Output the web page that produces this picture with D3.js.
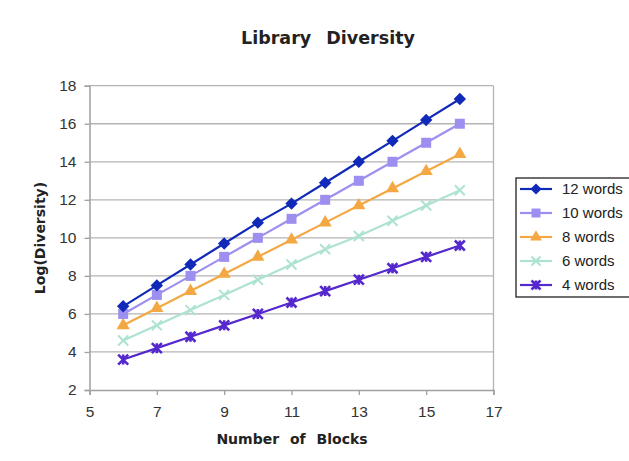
<!DOCTYPE html>
<html><head><meta charset="utf-8">
<script src="https://cdn.jsdelivr.net/npm/d3@7"></script>
<style>body{margin:0;background:#fff}svg{display:block}</style>
</head><body>
<script>
const blocks = [6,7,8,9,10,11,12,13,14,15,16];
const words12 = [6.4,7.5,8.6,9.7,10.8,11.8,12.9,14.0,15.1,16.2,17.3];
const words10 = [6.0,7.0,8.0,9.0,10.0,11.0,12.0,13.0,14.0,15.0,16.0];
const words8  = [5.4,6.3,7.2,8.1,9.0,9.9,10.8,11.7,12.6,13.5,14.4];
const words6  = [4.6,5.4,6.2,7.0,7.8,8.6,9.4,10.1,10.9,11.7,12.5];
const words4  = [3.6,4.2,4.8,5.4,6.0,6.6,7.2,7.8,8.4,9.0,9.6];
const seriesNames = ["12 words","10 words","8 words","6 words","4 words"];
const xTicks = [5,7,9,11,13,15,17];
const yTicks = [2,4,6,8,10,12,14,16,18];

const series = [
  {name:seriesNames[0], values:words12, color:"#1029b8", marker:"diamond"},
  {name:seriesNames[1], values:words10, color:"#9d8ff0", marker:"square"},
  {name:seriesNames[2], values:words8,  color:"#f4a843", marker:"triangle"},
  {name:seriesNames[3], values:words6,  color:"#ade3d0", marker:"x"},
  {name:seriesNames[4], values:words4,  color:"#5428cc", marker:"star"}
];

const W=629,H=461;
const svg=d3.select("body").append("svg").attr("width",W).attr("height",H);
const L=89.5,R=493.5,T=85.7,B=390;
const x=d3.scaleLinear().domain([5,17]).range([L,R]);
const y=d3.scaleLinear().domain([2,18]).range([B,T]);

svg.append("g").selectAll("line").data(yTicks.slice(1)).join("line")
  .attr("x1",L).attr("x2",R).attr("y1",d=>y(d)).attr("y2",d=>y(d))
  .attr("stroke","#b4b4b4").attr("stroke-width",1.3);
svg.append("line").attr("x1",R).attr("x2",R).attr("y1",T).attr("y2",B)
  .attr("stroke","#b4b4b4").attr("stroke-width",1.3);

const axisFont = "'Liberation Sans', Arial, sans-serif";
const gx=svg.append("g").attr("transform",`translate(0,${B})`)
  .call(d3.axisBottom(x).tickValues(xTicks).tickSize(5).tickPadding(8).tickFormat(d3.format("d")));
const gy=svg.append("g").attr("transform",`translate(${L},0)`)
  .call(d3.axisLeft(y).tickValues(yTicks).tickSize(5).tickPadding(8).tickFormat(d3.format("d")));
[gx,gy].forEach(g=>{
  g.select(".domain").attr("stroke","#a0a0a0").attr("stroke-width",1.5);
  g.selectAll(".tick line").attr("stroke","#a0a0a0").attr("stroke-width",1.3);
  g.selectAll(".tick text").attr("fill","#333").style("font-family",axisFont).style("font-size","15.5px");
});
gx.selectAll(".tick text").attr("dy","0.9em");

const line=d3.line().x((d,i)=>x(blocks[i])).y(d=>y(d));

function marker(g,type,color,s){
  if(type==="diamond"){
    const h=s*0.62;
    g.append("path").attr("d",`M0,${-h}L${h},0L0,${h}L${-h},0Z`).attr("fill",color);
  } else if(type==="square"){
    g.append("rect").attr("x",-s/2).attr("y",-s/2).attr("width",s).attr("height",s).attr("fill",color);
  } else if(type==="triangle"){
    g.append("path").attr("d",d3.symbol(d3.symbolTriangle,s*s*0.75)()).attr("fill",color);
  } else if(type==="x"){
    g.append("path").attr("d",`M${-s/2},${-s/2}L${s/2},${s/2}M${-s/2},${s/2}L${s/2},${-s/2}`)
      .attr("stroke",color).attr("stroke-width",2);
  } else {
    g.append("path").attr("d",`M${-s/2},${-s/2}L${s/2},${s/2}M${-s/2},${s/2}L${s/2},${-s/2}M0,${-s/2}L0,${s/2}`)
      .attr("stroke",color).attr("stroke-width",2.6);
  }
}

series.slice().reverse().forEach(s=>{
  svg.append("path").datum(s.values).attr("d",line).attr("fill","none")
    .attr("stroke",s.color).attr("stroke-width",2.2);
  s.values.forEach((v,i)=>{
    const g=svg.append("g").attr("transform",`translate(${x(blocks[i])},${y(v)})`);
    marker(g,s.marker,s.color,10);
  });
});

const boldFont="'DejaVu Sans', Verdana, sans-serif";
svg.append("text").attr("x",328).attr("y",44).attr("text-anchor","middle")
  .style("font-family",boldFont).style("font-weight","bold").style("font-size","17.5px")
  .style("word-spacing","9px").attr("fill","#222").text("Library Diversity");
svg.append("text").attr("x",292).attr("y",444).attr("text-anchor","middle")
  .style("font-family",boldFont).style("font-weight","bold").style("font-size","14px")
  .style("word-spacing","6px").attr("fill","#222").text("Number of Blocks");
svg.append("text").attr("transform","translate(45,238) rotate(-90)").attr("text-anchor","middle")
  .style("font-family",boldFont).style("font-weight","bold").style("font-size","14px")
  .attr("fill","#222").text("Log(Diversity)");

const lg=svg.append("g");
lg.append("rect").attr("x",516).attr("y",178).attr("width",125).attr("height",119)
  .attr("fill","#fff").attr("stroke","#222").attr("stroke-width",1.3);
series.forEach((s,i)=>{
  const yy=189+i*24;
  lg.append("line").attr("x1",520).attr("x2",552).attr("y1",yy).attr("y2",yy)
    .attr("stroke",s.color).attr("stroke-width",2.2);
  const g=lg.append("g").attr("transform",`translate(536,${yy})`);
  marker(g,s.marker,s.color,9);
  lg.append("text").attr("x",562).attr("y",yy+5).style("font-family",axisFont)
    .style("font-size","15px").attr("fill","#222").text(s.name);
});
</script>
</body></html>
